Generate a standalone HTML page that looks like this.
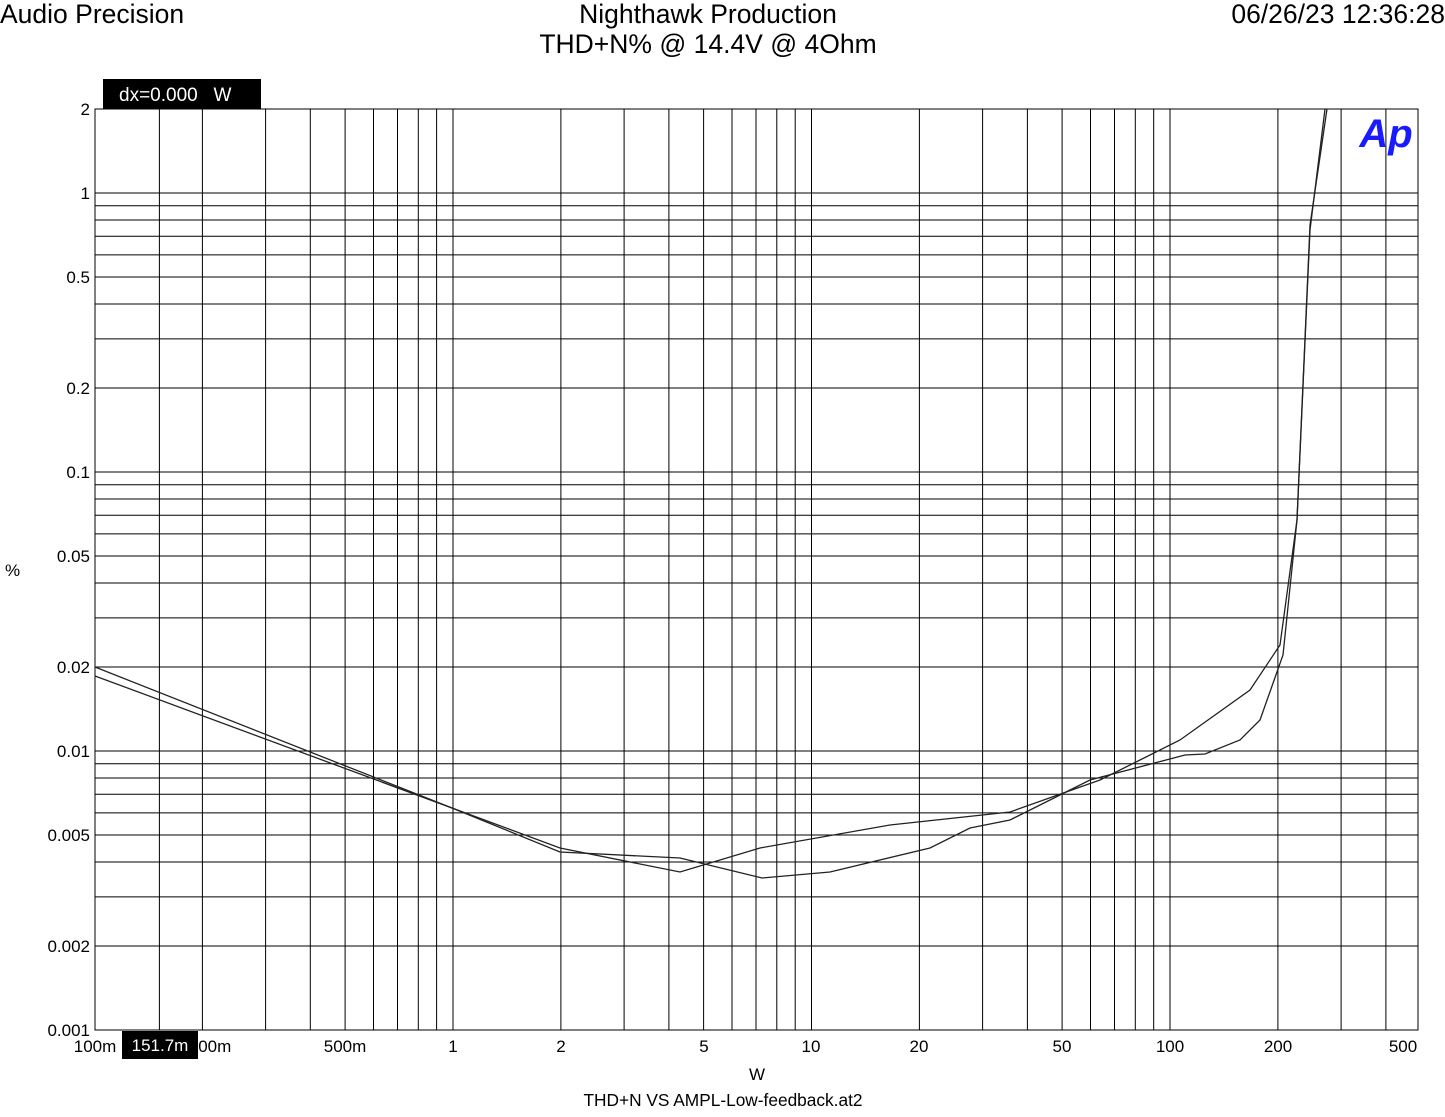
<!DOCTYPE html>
<html><head><meta charset="utf-8"><style>body{margin:0;background:#fff}svg{display:block}text{font-family:"Liberation Sans",sans-serif;fill:#000}</style></head>
<body>
<svg width="1445" height="1117" viewBox="0 0 1445 1117" xmlns="http://www.w3.org/2000/svg">
<rect width="1445" height="1117" fill="#fff"/>
<text x="0" y="23" font-size="26.5">Audio Precision</text>
<text x="708" y="23" font-size="26.5" text-anchor="middle">Nighthawk Production</text>
<text x="708" y="53" font-size="26.5" text-anchor="middle">THD+N% @ 14.4V @ 4Ohm</text>
<text x="1445" y="23" font-size="26.5" text-anchor="end">06/26/23 12:36:28</text>
<rect x="103" y="79" width="158" height="30" fill="#000"/>
<text x="119" y="101" font-size="19" style="fill:#fff" xml:space="preserve">dx=0.000   W</text>
<g stroke="#000" stroke-width="1">
<line x1="202.4" y1="109" x2="202.4" y2="1030"/><line x1="159.4" y1="109" x2="159.4" y2="1030"/><line x1="265.6" y1="109" x2="265.6" y2="1030"/><line x1="310.3" y1="109" x2="310.3" y2="1030"/><line x1="345.1" y1="109" x2="345.1" y2="1030"/><line x1="373.5" y1="109" x2="373.5" y2="1030"/><line x1="397.5" y1="109" x2="397.5" y2="1030"/><line x1="418.3" y1="109" x2="418.3" y2="1030"/><line x1="436.6" y1="109" x2="436.6" y2="1030"/>
<line x1="453" y1="109" x2="453" y2="1030"/><line x1="560.9" y1="109" x2="560.9" y2="1030"/><line x1="624.1" y1="109" x2="624.1" y2="1030"/><line x1="668.9" y1="109" x2="668.9" y2="1030"/><line x1="703.6" y1="109" x2="703.6" y2="1030"/><line x1="732" y1="109" x2="732" y2="1030"/><line x1="756" y1="109" x2="756" y2="1030"/><line x1="776.8" y1="109" x2="776.8" y2="1030"/><line x1="795.2" y1="109" x2="795.2" y2="1030"/>
<line x1="811.5" y1="109" x2="811.5" y2="1030"/><line x1="919.4" y1="109" x2="919.4" y2="1030"/><line x1="982.6" y1="109" x2="982.6" y2="1030"/><line x1="1027.4" y1="109" x2="1027.4" y2="1030"/><line x1="1062.1" y1="109" x2="1062.1" y2="1030"/><line x1="1090.5" y1="109" x2="1090.5" y2="1030"/><line x1="1114.5" y1="109" x2="1114.5" y2="1030"/><line x1="1135.3" y1="109" x2="1135.3" y2="1030"/><line x1="1153.7" y1="109" x2="1153.7" y2="1030"/>
<line x1="1170" y1="109" x2="1170" y2="1030"/><line x1="1277.9" y1="109" x2="1277.9" y2="1030"/><line x1="1341.1" y1="109" x2="1341.1" y2="1030"/><line x1="1385.9" y1="109" x2="1385.9" y2="1030"/>
<line x1="95" y1="193" x2="1418" y2="193"/><line x1="95" y1="205.8" x2="1418" y2="205.8"/><line x1="95" y1="220" x2="1418" y2="220"/><line x1="95" y1="236.2" x2="1418" y2="236.2"/><line x1="95" y1="254.9" x2="1418" y2="254.9"/><line x1="95" y1="277" x2="1418" y2="277"/><line x1="95" y1="304" x2="1418" y2="304"/><line x1="95" y1="338.9" x2="1418" y2="338.9"/><line x1="95" y1="388" x2="1418" y2="388"/>
<line x1="95" y1="472" x2="1418" y2="472"/><line x1="95" y1="484.8" x2="1418" y2="484.8"/><line x1="95" y1="499" x2="1418" y2="499"/><line x1="95" y1="515.2" x2="1418" y2="515.2"/><line x1="95" y1="533.9" x2="1418" y2="533.9"/><line x1="95" y1="556" x2="1418" y2="556"/><line x1="95" y1="583" x2="1418" y2="583"/><line x1="95" y1="617.9" x2="1418" y2="617.9"/><line x1="95" y1="667" x2="1418" y2="667"/>
<line x1="95" y1="751" x2="1418" y2="751"/><line x1="95" y1="763.8" x2="1418" y2="763.8"/><line x1="95" y1="778" x2="1418" y2="778"/><line x1="95" y1="794.2" x2="1418" y2="794.2"/><line x1="95" y1="812.9" x2="1418" y2="812.9"/><line x1="95" y1="835" x2="1418" y2="835"/><line x1="95" y1="862" x2="1418" y2="862"/><line x1="95" y1="896.9" x2="1418" y2="896.9"/><line x1="95" y1="946" x2="1418" y2="946"/>
<rect x="95" y="109" width="1323" height="921" fill="none"/>
</g>
<g stroke="#222" stroke-width="1.3" fill="none">
<polyline points="95,667 452,808 560,848 680,872 760,848 890,825 1010,812 1100,780 1180,740 1250,690 1280,645 1297,520 1310,230 1325,109"/>
<polyline points="95,676 452,808 560,852 680,858 762,878 830,872 930,848 970,828 1010,820 1060,795 1090,780 1185,755 1205,754 1240,740 1260,720 1283,655 1297,520 1310,225 1327,109"/>
</g>
<text x="1386" y="147" font-size="40" font-weight="bold" font-style="italic" text-anchor="middle" style="fill:#1a1aff">Ap</text>
<g font-size="17" text-anchor="end">
<text x="90" y="115">2</text><text x="90" y="199">1</text><text x="90" y="283">0.5</text><text x="90" y="394">0.2</text><text x="90" y="478">0.1</text><text x="90" y="562">0.05</text><text x="90" y="673">0.02</text><text x="90" y="757">0.01</text><text x="90" y="841">0.005</text><text x="90" y="952">0.002</text><text x="90" y="1036">0.001</text>
</g>
<text x="5" y="576" font-size="17">%</text>
<g font-size="17" text-anchor="middle">
<text x="95" y="1052">100m</text><text x="210" y="1052">200m</text><text x="345" y="1052">500m</text><text x="453" y="1052">1</text><text x="561" y="1052">2</text><text x="704" y="1052">5</text><text x="811" y="1052">10</text><text x="919" y="1052">20</text><text x="1062" y="1052">50</text><text x="1170" y="1052">100</text><text x="1278" y="1052">200</text><text x="1403" y="1052">500</text>
</g>
<rect x="122" y="1031" width="76" height="28" fill="#000"/>
<text x="160" y="1051" font-size="17" text-anchor="middle" style="fill:#fff">151.7m</text>
<text x="757" y="1080" font-size="17" text-anchor="middle">W</text>
<text x="723" y="1106" font-size="17.3" text-anchor="middle">THD+N VS AMPL-Low-feedback.at2</text>
</svg>
</body></html>
